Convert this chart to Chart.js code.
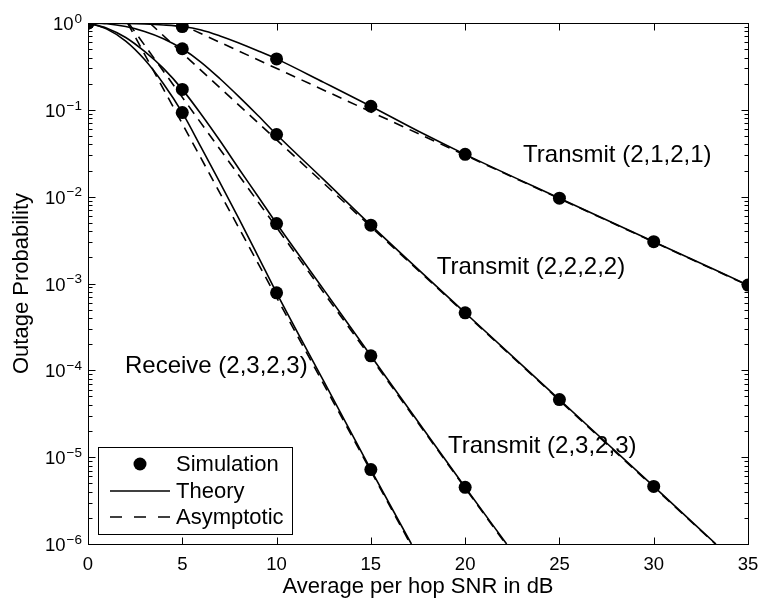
<!DOCTYPE html>
<html>
<head>
<meta charset="utf-8">
<script src="https://cdn.jsdelivr.net/npm/chart.js@4.4.0/dist/chart.umd.min.js"></script>
<style>
html, body { margin: 0; padding: 0; background: #fff; }
#wrap { width: 761px; height: 600px; }
</style>
</head>
<body>
<div id="wrap"><canvas id="chart" width="761" height="600"></canvas></div>
<script>
'use strict';

// simulation dots, every 5 dB
const simX = [0, 5, 10, 15, 20, 25, 30, 35];
const simA = [1, 0.91, 0.386, 0.11, 0.0307, 0.0096, 0.00303, 0.00096];   // Transmit (2,1,2,1)
const simB = [1, 0.505, 0.052, 0.0047, 4.6e-4, 4.6e-5, 4.6e-6];          // Transmit (2,2,2,2)
const simC = [1, 0.172, 0.0049, 1.47e-4, 4.5e-6];                        // Transmit (2,3,2,3)
const simD = [1, 0.093, 7.8e-4, 7.2e-6];                                 // Receive (2,3,2,3)

// theory curves
const theoryAx = [0, 1, 2, 3, 4, 5, 6, 7, 8, 9, 10, 12.5, 15, 17.5, 20, 25, 30, 35];
const theoryAy = [1, 0.998, 0.99, 0.975, 0.95, 0.91, 0.83, 0.71, 0.59, 0.48, 0.386, 0.207, 0.11, 0.057, 0.0307, 0.0096, 0.00303, 0.00096];
const theoryBx = [0, 1, 2, 3, 4, 5, 6, 7, 8, 9, 10, 12.5, 15, 20, 25, 30, 33.3];
const theoryBy = [1, 0.98, 0.91, 0.80, 0.66, 0.505, 0.353, 0.228, 0.142, 0.0867, 0.052, 0.0157, 0.0047, 4.6e-4, 4.6e-5, 4.6e-6, 1e-6];
const theoryCx = [0, 1, 2, 3, 4, 5, 6, 7, 8, 9, 10, 12.5, 15, 20, 22.2];
const theoryCy = [1, 0.87, 0.68, 0.47, 0.30, 0.172, 0.089, 0.044, 0.021, 0.0102, 0.0049, 8.5e-4, 1.47e-4, 4.5e-6, 1e-6];
const theoryDx = [0, 1, 2, 3, 4, 5, 6, 7, 8, 9, 10, 12.5, 15, 17.15];
const theoryDy = [1, 0.85, 0.62, 0.38, 0.20, 0.093, 0.037, 0.0145, 0.0056, 0.0021, 7.8e-4, 7.5e-5, 7.2e-6, 1e-6];

// asymptotic lines (straight on log scale: start and end points)
const asymAx = [4.77, 35];
const asymAy = [1, 9.5e-4];
const asymBx = [3.27, 33.27];
const asymBy = [1, 1e-6];
const asymCx = [2.15, 22.15];
const asymCy = [1, 1e-6];
const asymDx = [2.1, 17.1];
const asymDy = [1, 1e-6];

// axis ticks
const xTicks = [0, 5, 10, 15, 20, 25, 30, 35];
const yExponents = [0, -1, -2, -3, -4, -5, -6];
const yMinorSteps = [2, 3, 4, 5, 6, 7, 8, 9];

// curve labels
const curveLabels = ['Transmit (2,1,2,1)', 'Transmit (2,2,2,2)', 'Transmit (2,3,2,3)', 'Receive (2,3,2,3)'];
const curveLabelX = [23.07, 18.49, 19.09, 1.96];
const curveLabelY = [0.0297, 1.52e-3, 1.32e-5, 1.11e-4];

const legendNames = ['Simulation', 'Theory', 'Asymptotic'];

const FONT = '"Liberation Sans", Arial, Helvetica, sans-serif';

function pts(xs, ys) {
  return ys.map((y, i) => ({ x: xs[i], y: y }));
}

function simSet(ys) {
  return {
    data: pts(simX, ys), showLine: false, pointRadius: 6.5, pointHoverRadius: 6.5,
    pointBackgroundColor: '#000', pointBorderColor: '#000', pointBorderWidth: 0, order: 0
  };
}
function theorySet(xs, ys) {
  return {
    data: pts(xs, ys), showLine: true, pointRadius: 0, borderColor: '#000', borderWidth: 1.6,
    cubicInterpolationMode: 'monotone', fill: false, order: 1
  };
}
function asymSet(xs, ys) {
  return {
    data: pts(xs, ys), showLine: true, pointRadius: 0, borderColor: '#000', borderWidth: 1.6,
    borderDash: [10, 7], fill: false, order: 2
  };
}

const decorations = {
  id: 'decorations',
  afterDraw(chart) {
    const ctx = chart.ctx;
    const a = chart.chartArea;
    const xs = chart.scales.x;
    const ys = chart.scales.y;
    ctx.save();
    ctx.strokeStyle = '#000';
    ctx.fillStyle = '#000';
    ctx.lineWidth = 1;

    // frame
    const L = Math.round(a.left) + 0.5, R = Math.round(a.right) + 0.5;
    const T = Math.round(a.top) + 0.5, B = Math.round(a.bottom) + 0.5;
    ctx.strokeRect(L, T, R - L, B - T);

    // x ticks, bottom and top, pointing inward
    ctx.beginPath();
    xTicks.forEach(v => {
      const px = Math.round(xs.getPixelForValue(v)) + 0.5;
      ctx.moveTo(px, B); ctx.lineTo(px, B - 7);
      ctx.moveTo(px, T); ctx.lineTo(px, T + 7);
    });
    // y ticks, left and right
    yExponents.forEach(e => {
      const py = Math.round(ys.getPixelForValue(Math.pow(10, e))) + 0.5;
      ctx.moveTo(L, py); ctx.lineTo(L + 7, py);
      ctx.moveTo(R, py); ctx.lineTo(R - 7, py);
      if (e > -6) {
        yMinorSteps.forEach(m => {
          const pm = Math.round(ys.getPixelForValue(m * Math.pow(10, e - 1))) + 0.5;
          ctx.moveTo(L, pm); ctx.lineTo(L + 4, pm);
          ctx.moveTo(R, pm); ctx.lineTo(R - 4, pm);
        });
      }
    });
    ctx.stroke();

    // y tick labels 10^n
    ctx.textBaseline = 'middle';
    ctx.textAlign = 'right';
    yExponents.forEach(e => {
      const py = ys.getPixelForValue(Math.pow(10, e));
      const expTxt = e === 0 ? '0' : '\u2212' + Math.abs(e);
      ctx.font = '13.5px ' + FONT;
      const w = ctx.measureText(expTxt).width;
      ctx.fillText(expTxt, 82, py - 4);
      ctx.font = '18.5px ' + FONT;
      ctx.fillText('10', 82 - w - 1, py + 2);
    });

    // curve labels
    ctx.textAlign = 'left';
    ctx.font = '24px ' + FONT;
    curveLabels.forEach((t, i) => {
      ctx.fillText(t, xs.getPixelForValue(curveLabelX[i]), ys.getPixelForValue(curveLabelY[i]));
    });

    // legend box
    const bx = 98, by = 447, bw = 194, bh = 87;
    ctx.fillStyle = '#fff';
    ctx.fillRect(bx, by, bw, bh);
    ctx.strokeRect(bx + 0.5, by + 0.5, bw, bh);
    ctx.fillStyle = '#000';
    const rowY = [464, 491, 517];
    // simulation marker
    ctx.beginPath();
    ctx.arc(140, rowY[0], 6.5, 0, Math.PI * 2);
    ctx.fill();
    // theory sample
    ctx.lineWidth = 1.6;
    ctx.beginPath();
    ctx.moveTo(110, rowY[1]); ctx.lineTo(170, rowY[1]);
    ctx.stroke();
    // asymptotic sample
    ctx.setLineDash([12, 12]);
    ctx.beginPath();
    ctx.moveTo(110, rowY[2]); ctx.lineTo(170, rowY[2]);
    ctx.stroke();
    ctx.setLineDash([]);
    ctx.font = '22px ' + FONT;
    ctx.textAlign = 'left';
    legendNames.forEach((n, i) => ctx.fillText(n, 176, rowY[i] + 1));

    ctx.restore();
  }
};

const canvasElem = document.getElementById('chart');

const data = {
  datasets: [
    simSet(simA), simSet(simB), simSet(simC), simSet(simD),
    theorySet(theoryAx, theoryAy), theorySet(theoryBx, theoryBy),
    theorySet(theoryCx, theoryCy), theorySet(theoryDx, theoryDy),
    asymSet(asymAx, asymAy), asymSet(asymBx, asymBy),
    asymSet(asymCx, asymCy), asymSet(asymDx, asymDy)
  ]
};

const config = {
  type: 'scatter',
  data: data,
  options: {
    responsive: false,
    animation: false,
    devicePixelRatio: 1,
    layout: { padding: { top: 23, right: 13, left: 0, bottom: 0 } },
    plugins: { legend: { display: false }, tooltip: { enabled: false } },
    scales: {
      x: {
        type: 'linear', min: 0, max: 35,
        ticks: { stepSize: 5, autoSkip: false, maxRotation: 0, color: '#000', padding: 10,
                 font: { family: FONT, size: 18.5 } },
        grid: { display: false, drawTicks: false },
        border: { display: false },
        title: { display: true, text: 'Average per hop SNR in dB', color: '#000',
                 font: { family: FONT, size: 22 }, padding: { top: 0, bottom: 0 } },
        afterFit: s => { s.height = 56; s.paddingLeft = 0; s.paddingRight = 0; }
      },
      y: {
        type: 'logarithmic', min: 1e-6, max: 1,
        ticks: { display: false },
        grid: { display: false, drawTicks: false },
        border: { display: false },
        title: { display: true, text: 'Outage Probability', color: '#000',
                 font: { family: FONT, size: 22 }, padding: { top: 9, bottom: 0 } },
        afterFit: s => { s.width = 88; s.paddingTop = 0; s.paddingBottom = 0; }
      }
    }
  },
  plugins: [decorations]
};

const myChart = new Chart(canvasElem, config);
</script>
</body>
</html>
